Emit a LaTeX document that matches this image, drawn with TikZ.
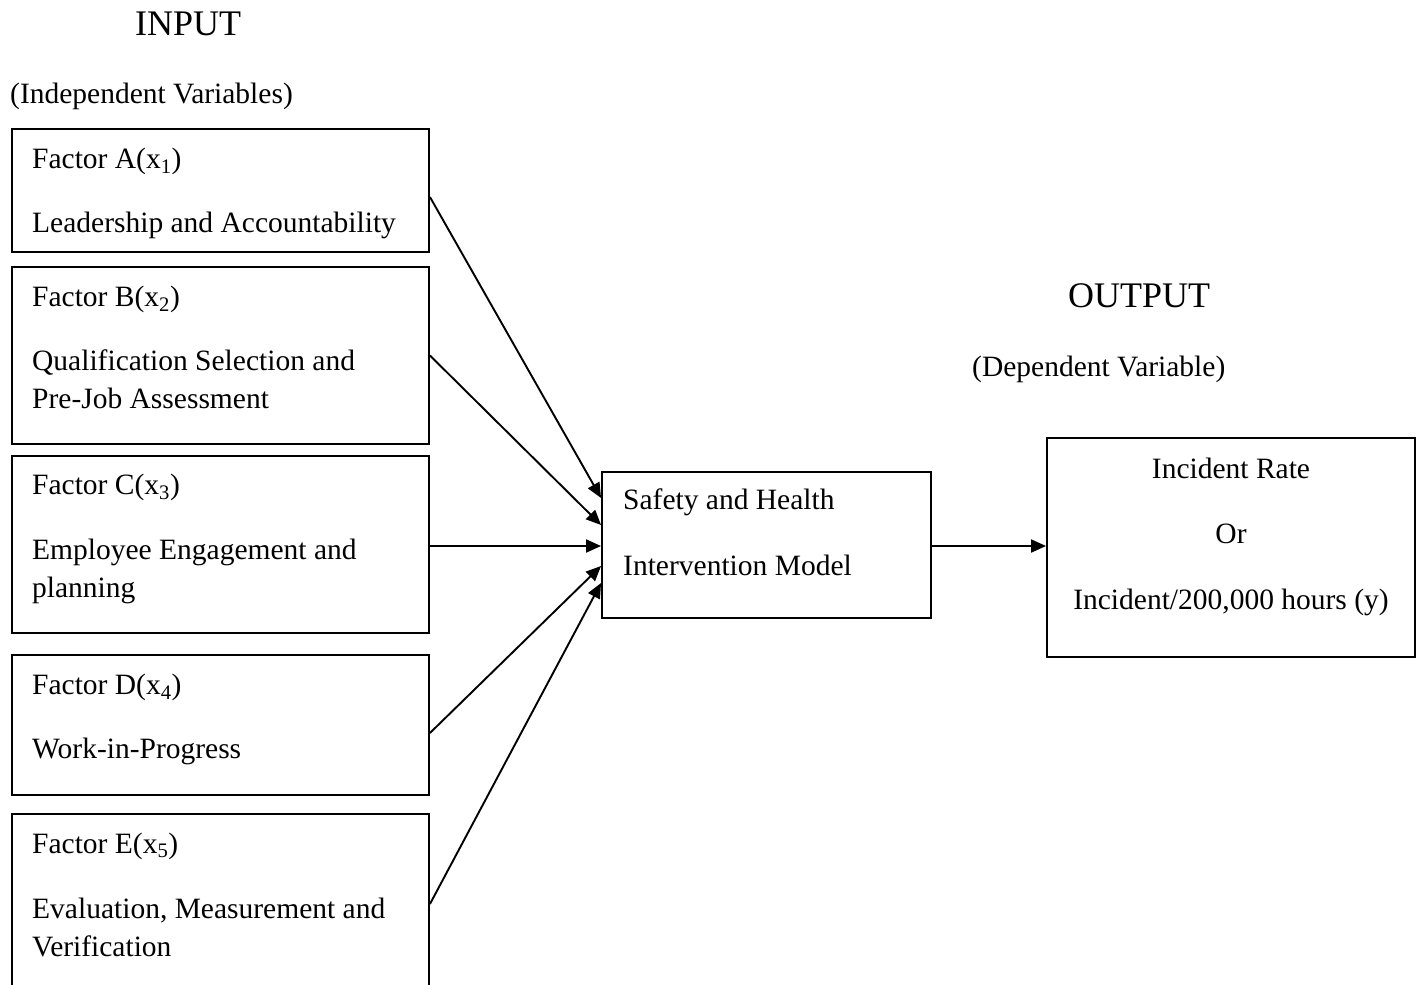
\documentclass[tikz,border=0pt]{standalone}
\usepackage{fontspec}
\setmainfont{Liberation Serif}
\usetikzlibrary{arrows.meta}
\tikzset{
  box/.style={draw, line width=1.9pt, rectangle, inner sep=0pt},
  txt/.style={anchor=base west, inner sep=0pt, font=\fontsize{29.5}{38}\selectfont},
  ctxt/.style={anchor=base, inner sep=0pt, font=\fontsize{29.5}{38}\selectfont},
  head/.style={anchor=base west, inner sep=0pt, font=\fontsize{36}{40}\selectfont},
  arr/.style={line width=1.9pt, -{Triangle[length=15pt,width=13pt]}}
}
\begin{document}
\begin{tikzpicture}[x=1pt,y=-1pt]
\clip (0,0) rectangle (1416,985);
\useasboundingbox (0,0) rectangle (1416,985);
% boxes
\node[box, minimum width=417pt, minimum height=123pt] (A) at (220.5,190.5) {};
\node[box, minimum width=417pt, minimum height=177pt] (B) at (220.5,355.5) {};
\node[box, minimum width=417pt, minimum height=177pt] (C) at (220.5,544.5) {};
\node[box, minimum width=417pt, minimum height=140pt] (D) at (220.5,725) {};
\node[box, minimum width=417pt, minimum height=186pt] (E) at (220.5,907) {};
\node[box, minimum width=329pt, minimum height=146pt] (M) at (766.5,545) {};
\node[box, minimum width=368pt, minimum height=219pt] (O) at (1231,547.5) {};
% headings
\node[head] (in) at (135,35) {INPUT};
\node[txt] (inv) at (10,103) {(Independent Variables)};
\node[head] (out) at (1068,307) {OUTPUT};
\node[txt] (outv) at (972,376) {(Dependent Variable)};
% factor texts
\node[txt] (a1) at (32,168) {Factor A(x\textsubscript{1})};
\node[txt] (a2) at (32,232) {Leadership and Accountability};
\node[txt] (b1) at (32,306) {Factor B(x\textsubscript{2})};
\node[txt] (b2) at (32,370) {Qualification Selection and};
\node[txt] (b3) at (32,408) {Pre-Job Assessment};
\node[txt] (c1) at (32,494) {Factor C(x\textsubscript{3})};
\node[txt] (c2) at (32,559) {Employee Engagement and};
\node[txt] (c3) at (32,597) {planning};
\node[txt] (d1) at (32,694) {Factor D(x\textsubscript{4})};
\node[txt] (d2) at (32,758) {Work-in-Progress};
\node[txt] (e1) at (32,853) {Factor E(x\textsubscript{5})};
\node[txt] (e2) at (32,918) {Evaluation, Measurement and};
\node[txt] (e3) at (32,956) {Verification};
% middle
\node[txt] (m1) at (623,509) {Safety and Health};
\node[txt] (m2) at (623,575) {Intervention Model};
% output
\node[ctxt] (o1) at (1231,478) {Incident Rate};
\node[ctxt] (o2) at (1231,543) {Or};
\node[ctxt] (o3) at (1231,609) {Incident/200,000 hours (y)};
% arrows
\draw[arr] ([yshift=-6.5pt]A.east) -- ([yshift=47pt]M.west);
\draw[arr] (B.east) -- ([yshift=20pt]M.west);
\draw[arr] ([yshift=-1.5pt]C.east) -- ([yshift=-1pt]M.west);
\draw[arr] ([yshift=-8pt]D.east) -- ([yshift=-21pt]M.west);
\draw[arr] ([yshift=3pt]E.east) -- ([yshift=-38pt]M.west);
\draw[arr] ([yshift=-1pt]M.east) -- ([yshift=-1pt]M.east -| O.west);
\end{tikzpicture}
\end{document}
